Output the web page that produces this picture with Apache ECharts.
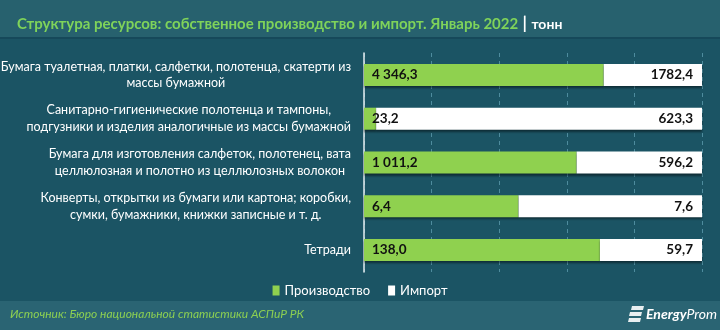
<!DOCTYPE html>
<html>
<head>
<meta charset="utf-8">
<script src="https://cdn.jsdelivr.net/npm/echarts@6/dist/echarts.min.js"></script>
<style>
  html, body { margin: 0; padding: 0; background: #1b5464; }
  #chart { width: 720px; height: 330px; }
</style>
</head>
<body>
<div id="chart"></div>
<script>
const categories = [
  'Бумага туалетная, платки, салфетки, полотенца, скатерти из\nмассы бумажной',
  'Санитарно-гигиенические полотенца и тампоны,\nподгузники и изделия аналогичные из массы бумажной',
  'Бумага для изготовления салфеток, полотенец, вата\nцеллюлозная и полотно из целлюлозных волокон',
  'Конверты, открытки из бумаги или картона; коробки,\nсумки, бумажники, книжки записные и т. д.',
  'Тетради'
];
const production = [4346.3, 23.2, 1011.2, 6.4, 138.0];
const imports = [1782.4, 623.3, 596.2, 7.6, 59.7];

// shares in percent, first category on top
const prodShare = production.map((v, i) => v / (v + imports[i]) * 100);
const impShare = imports.map((v, i) => v / (production[i] + v) * 100);

function fmt(v, group) {
  let s = v.toFixed(1).replace('.', ',');
  if (group) {
    const parts = s.split(',');
    parts[0] = parts[0].replace(/\B(?=(\d{3})+(?!\d))/g, ' ');
    s = parts.join(',');
  }
  return s;
}

const chart = echarts.init(document.getElementById('chart'));

const barShadow = {
  shadowColor: 'rgba(0,0,0,0.45)',
  shadowBlur: 2,
  shadowOffsetY: 2
};

chart.setOption({
  backgroundColor: '#1b5464',
  textStyle: { fontFamily: 'Lato' },
  graphic: [
    { type: 'rect', shape: { x: 0, y: 0, width: 720, height: 37 }, style: { fill: '#27616e' }, z: -1 },
    { type: 'rect', shape: { x: 0, y: 37, width: 720, height: 2 }, style: { fill: '#16495a' }, z: -1 },
    { type: 'rect', shape: { x: 0, y: 301, width: 720, height: 29 }, style: { fill: '#2a6473' }, z: -1 },
    {
      type: 'text', left: 10, top: 308,
      style: {
        text: 'Источник: Бюро национальной статистики АСПиР РК',
        fill: '#8ccf52', font: 'italic 12px Lato'
      }
    },
    {
      type: 'group', left: 628, top: 306,
      children: [
        { type: 'polygon', shape: { points: [[4, 0], [16, 0], [15, 4], [3, 4]] }, style: { fill: '#e8eef0' } },
        { type: 'polygon', shape: { points: [[2, 6], [14, 6], [13, 10], [1, 10]] }, style: { fill: '#e8eef0' } },
        { type: 'polygon', shape: { points: [[1, 12], [13, 12], [12, 16], [0, 16]] }, style: { fill: '#e8eef0' } },
        {
          type: 'text', x: 18, y: 1,
          style: {
            text: '{b|Energy}{l|Prom}',
            rich: {
              b: { fill: '#ffffff', font: 'italic bold 14px Lato' },
              l: { fill: '#ffffff', font: 'italic 14px Lato' }
            }
          }
        }
      ]
    }
  ],
  title: {
    left: 12, top: 10,
    text: '{g|Структура ресурсов: собственное производство и импорт. Январь 2022} {s||} {w|тонн}',
    textStyle: {
      rich: {
        g: { color: '#7fd35a', fontSize: 15, fontWeight: 'bold', fontFamily: 'Lato' },
        s: { color: '#ffffff', fontSize: 17, fontFamily: 'Lato' },
        w: { color: '#ffffff', fontSize: 14, fontWeight: 'bold', fontFamily: 'Lato' }
      }
    }
  },
  legend: {
    top: 279, left: 'center',
    itemWidth: 7, itemHeight: 10, itemGap: 18,
    icon: 'rect',
    textStyle: { color: '#ffffff', fontSize: 13, fontFamily: 'Lato' },
    data: ['Производство', 'Импорт']
  },
  grid: { left: 364, right: 18, top: 53, bottom: 58, outerBoundsMode: 'none' },
  xAxis: {
    type: 'value', min: 0, max: 100, interval: 20,
    axisLabel: { show: false },
    axisLine: { show: false },
    axisTick: { show: false },
    splitLine: { show: true, lineStyle: { color: 'rgba(120,185,205,0.55)', type: [4, 4], width: 1 } }
  },
  yAxis: {
    type: 'category', inverse: true,
    data: categories,
    axisLine: { show: true, lineStyle: { color: '#e6eef0', width: 1.5 } },
    axisTick: { show: false },
    axisLabel: {
      margin: 13,
      formatter: v => v.split('\n').map(l => '{c|' + l + '}').join('\n'),
      rich: {
        c: { align: 'center', color: '#ffffff', fontSize: 12.5, lineHeight: 16.5, fontFamily: 'Lato' }
      }
    }
  },
  series: [
    {
      name: 'Производство', type: 'bar', stack: 'total', barWidth: 22,
      data: prodShare,
      itemStyle: Object.assign({ color: '#8fd14f' }, barShadow),
      label: {
        show: true, position: 'insideLeft', distance: 8,
        color: '#111', fontSize: 13.5, fontWeight: 'bold', fontFamily: 'Lato',
        formatter: p => fmt(production[p.dataIndex], true)
      }
    },
    {
      name: 'Импорт', type: 'bar', stack: 'total', barWidth: 22,
      data: impShare,
      itemStyle: Object.assign({ color: '#ffffff' }, barShadow),
      label: {
        show: true, position: 'insideRight', distance: 9,
        color: '#111', fontSize: 13.5, fontWeight: 'bold', fontFamily: 'Lato',
        formatter: p => fmt(imports[p.dataIndex], false)
      }
    }
  ]
});
</script>
</body>
</html>
